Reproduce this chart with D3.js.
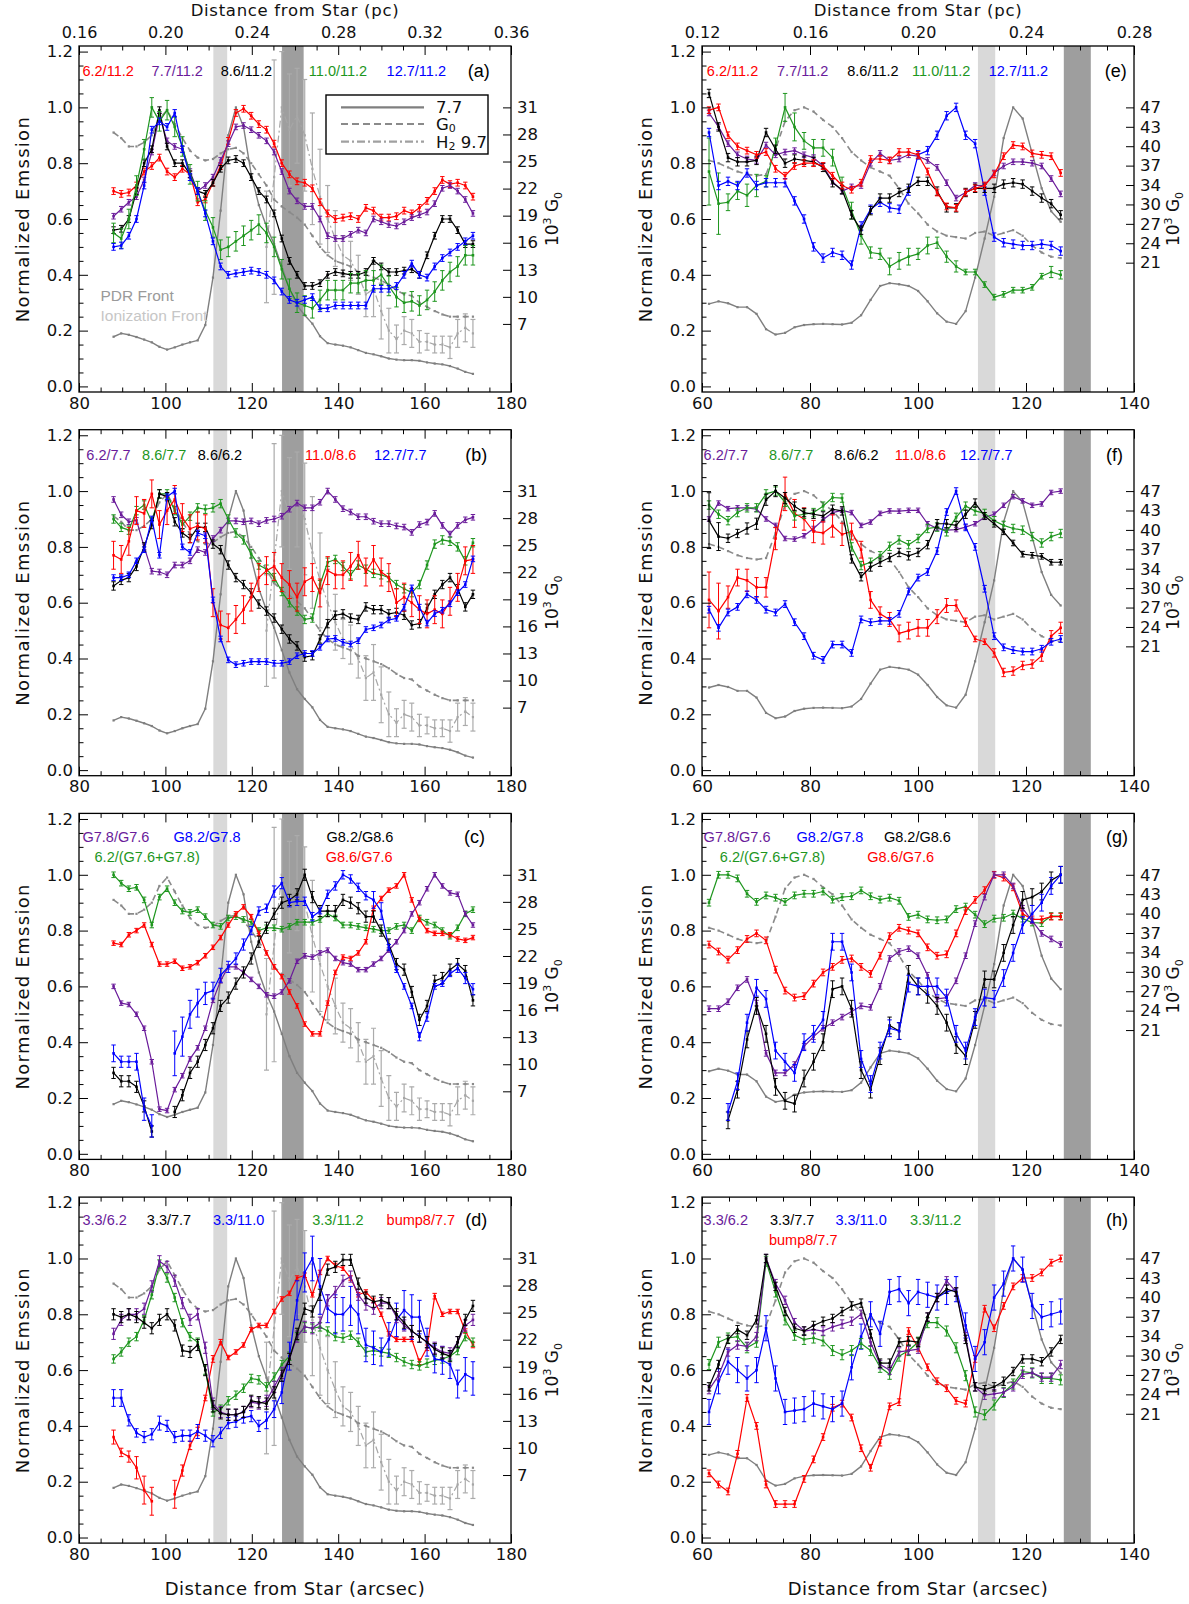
<!DOCTYPE html>
<html><head><meta charset="utf-8">
<script src="https://cdn.jsdelivr.net/npm/d3@7"></script>
<style>body{margin:0;background:#fff}svg{display:block}</style>
</head><body>
<svg id="c" width="1189" height="1604"></svg>
<script>
// ---------------- DATA ----------------
const xL = [88.00,89.77,91.54,93.31,95.08,96.85,98.62,100.39,102.16,103.93,105.70,107.47,109.24,111.01,112.78,114.55,116.32,118.09,119.86,121.63,123.40,125.17,126.94,128.71,130.48,132.25,134.02,135.79,137.56,139.33,141.10,142.87,144.64,146.41,148.18,149.95,151.72,153.49,155.26,157.03,158.80,160.57,162.34,164.11,165.88,167.65,169.42,171.19];
const xR = [61.30,63.06,64.82,66.58,68.34,70.10,71.86,73.62,75.38,77.14,78.90,80.66,82.42,84.18,85.94,87.70,89.46,91.22,92.98,94.74,96.50,98.26,100.02,101.78,103.54,105.30,107.06,108.82,110.58,112.34,114.10,115.86,117.62,119.38,121.14,122.90,124.66,126.42];

// gray reference profiles (left column, panels a-d)
const pah77L = [0.178,0.19,0.185,0.177,0.168,0.158,0.142,0.132,0.14,0.15,0.158,0.165,0.22,0.39,0.63,0.9,1.0,0.93,0.76,0.65,0.573,0.51,0.43,0.35,0.29,0.255,0.225,0.18,0.155,0.15,0.146,0.14,0.13,0.12,0.115,0.108,0.1,0.096,0.094,0.094,0.092,0.086,0.082,0.079,0.073,0.064,0.052,0.045];
const g0L = [0.91,0.89,0.86,0.86,0.875,0.9,0.96,0.99,0.94,0.89,0.845,0.82,0.81,0.815,0.835,0.85,0.855,0.835,0.8,0.76,0.72,0.67,0.645,0.625,0.605,0.58,0.54,0.5,0.47,0.45,0.44,0.43,0.41,0.4,0.39,0.38,0.365,0.345,0.33,0.325,0.3,0.285,0.27,0.258,0.25,0.25,0.25,0.25];
const h2L = [NaN,NaN,NaN,NaN,NaN,NaN,NaN,NaN,NaN,NaN,NaN,NaN,NaN,NaN,NaN,NaN,NaN,NaN,NaN,NaN,0.5,0.75,1.0,0.92,0.97,0.9,0.78,0.68,0.6,0.53,0.47,0.45,0.4,0.33,0.35,0.27,0.2,0.17,0.2,0.19,0.16,0.16,0.15,0.15,0.14,0.19,0.21,0.19];
const h2ErrL = [0,0,0,0,0,0,0,0,0,0,0,0,0,0,0,0,0,0,0,0,0.2,0.42,0.2,0.2,0.17,0.2,0.2,0.17,0.12,0.1,0.07,0.07,0.07,0.08,0.1,0.1,0.08,0.05,0.05,0.05,0.04,0.03,0.03,0.03,0.04,0.05,0.05,0.05];
// gray reference profiles (right column, panels e-h)
const pah77R = [0.296,0.305,0.298,0.284,0.284,0.26,0.205,0.186,0.192,0.212,0.22,0.223,0.224,0.223,0.222,0.228,0.255,0.31,0.36,0.37,0.366,0.36,0.342,0.305,0.262,0.232,0.224,0.27,0.39,0.53,0.68,0.89,1.0,0.96,0.835,0.71,0.628,0.59];
const g0R = [0.81,0.8,0.785,0.77,0.76,0.755,0.76,0.85,0.95,0.99,1.0,0.985,0.955,0.93,0.89,0.84,0.81,0.785,0.77,0.755,0.71,0.655,0.62,0.58,0.555,0.54,0.535,0.53,0.55,0.555,0.54,0.55,0.56,0.54,0.505,0.48,0.465,0.46];

// panel (a)
const a_62_112 = [0.70,0.69,0.695,0.72,0.77,0.79,0.82,0.77,0.75,0.78,0.76,0.66,0.67,0.73,0.79,0.88,0.98,0.995,0.97,0.94,0.92,0.87,0.80,0.76,0.735,0.73,0.71,0.66,0.62,0.60,0.605,0.61,0.60,0.64,0.63,0.605,0.605,0.61,0.63,0.62,0.64,0.665,0.70,0.74,0.725,0.73,0.72,0.68];
const a_77_112 = [0.61,0.635,0.66,0.68,0.74,0.84,0.97,0.88,0.86,0.85,0.77,0.70,0.72,0.75,0.81,0.87,0.93,0.935,0.92,0.90,0.88,0.84,0.77,0.70,0.665,0.645,0.645,0.60,0.54,0.53,0.53,0.545,0.56,0.55,0.60,0.59,0.58,0.575,0.59,0.605,0.615,0.625,0.655,0.71,0.72,0.70,0.67,0.62];
const a_86_112 = [0.56,0.565,0.60,0.70,0.80,0.85,0.99,0.86,0.80,0.80,0.76,0.70,0.69,0.73,0.78,0.81,0.815,0.80,0.75,0.70,0.67,0.62,0.53,0.45,0.40,0.36,0.36,0.37,0.40,0.41,0.405,0.40,0.40,0.41,0.45,0.43,0.41,0.41,0.415,0.42,0.40,0.47,0.54,0.60,0.60,0.56,0.51,0.51];
const a_110_112 = [0.55,0.53,0.60,0.72,0.85,1.0,0.95,0.99,0.93,0.86,0.76,0.70,0.63,0.57,0.49,0.50,0.52,0.54,0.56,0.58,0.55,0.50,0.42,0.35,0.30,0.29,0.28,0.31,0.345,0.345,0.345,0.37,0.37,0.38,0.38,0.40,0.36,0.32,0.30,0.305,0.29,0.31,0.34,0.38,0.41,0.43,0.47,0.47];
const a_127_112 = [0.50,0.505,0.54,0.60,0.72,0.92,0.95,0.93,0.98,0.85,0.75,0.70,0.62,0.52,0.43,0.40,0.405,0.41,0.415,0.41,0.40,0.38,0.34,0.31,0.30,0.31,0.32,0.28,0.28,0.29,0.29,0.29,0.29,0.29,0.35,0.35,0.35,0.36,0.40,0.44,0.40,0.39,0.43,0.46,0.48,0.50,0.52,0.54];
// panel (b)
const b_62_77 = [0.97,0.915,0.89,0.895,0.80,0.713,0.71,0.70,0.735,0.735,0.75,0.79,0.78,0.83,0.86,0.893,0.893,0.89,0.893,0.883,0.895,0.90,0.91,0.935,0.957,0.94,0.94,0.96,1.0,0.97,0.937,0.925,0.908,0.908,0.892,0.883,0.883,0.875,0.871,0.852,0.88,0.889,0.92,0.877,0.846,0.877,0.897,0.906];
const b_86_77 = [0.90,0.87,0.86,0.93,0.95,0.89,0.99,0.99,0.93,0.88,0.91,0.94,0.935,0.94,0.955,0.90,0.85,0.825,0.775,0.735,0.72,0.69,0.64,0.60,0.57,0.54,0.545,0.665,0.745,0.755,0.73,0.70,0.735,0.72,0.705,0.70,0.69,0.665,0.65,0.636,0.665,0.735,0.81,0.825,0.82,0.80,0.75,0.815];
const b_86_62 = [0.66,0.68,0.69,0.73,0.80,0.88,0.99,0.98,0.89,0.85,0.83,0.87,0.87,0.81,0.79,0.735,0.69,0.665,0.635,0.595,0.57,0.545,0.505,0.47,0.445,0.405,0.41,0.47,0.525,0.555,0.56,0.545,0.54,0.585,0.575,0.575,0.56,0.565,0.555,0.52,0.525,0.58,0.63,0.665,0.69,0.65,0.585,0.63];
const b_110_86 = [0.77,0.755,0.82,0.93,0.92,0.99,0.88,0.93,0.97,0.905,0.865,0.875,0.865,0.60,0.52,0.51,0.54,0.575,0.62,0.69,0.715,0.73,0.69,0.665,0.62,0.675,0.69,0.635,0.715,0.70,0.70,0.73,0.77,0.71,0.755,0.71,0.69,0.60,0.62,0.60,0.575,0.56,0.575,0.56,0.605,0.655,0.75,0.755];
const b_127_77 = [0.69,0.69,0.70,0.75,0.79,0.90,0.77,0.98,1.0,0.80,0.78,0.85,0.84,0.61,0.47,0.395,0.378,0.383,0.389,0.389,0.389,0.383,0.383,0.389,0.41,0.418,0.418,0.44,0.47,0.472,0.458,0.452,0.464,0.504,0.51,0.52,0.538,0.544,0.584,0.653,0.584,0.527,0.561,0.573,0.596,0.636,0.665,0.757];
// panel (c)
const c_G78_G76 = [0.60,0.54,0.535,0.50,0.45,0.33,0.16,0.155,0.23,0.28,0.34,0.38,0.45,0.55,0.62,0.67,0.67,0.65,0.625,0.60,0.57,0.565,0.58,0.62,0.69,0.71,0.705,0.72,0.73,0.70,0.685,0.68,0.66,0.66,0.68,0.70,0.73,0.76,0.80,0.86,0.90,0.95,1.0,0.96,0.935,0.93,0.86,0.82];
const c_G82_G78 = [0.36,0.33,0.33,0.33,0.16,0.10,NaN,NaN,0.36,0.42,0.50,0.54,0.575,0.585,0.64,0.67,0.70,0.75,0.80,0.87,0.88,0.94,0.97,0.90,0.905,0.905,0.85,0.87,0.93,0.96,1.0,0.985,0.955,0.925,0.91,0.87,0.74,0.66,0.60,0.53,0.42,0.49,0.60,0.61,0.645,0.665,0.63,0.59];
const c_G82_G78_err = [0.03,0.02,0.02,0.03,0.04,0.04,0.03,0.03,0.08,0.07,0.05,0.05,0.04,0.03,0.025,0.02,0.02,0.02,0.015,0.015,0.015,0.02,0.02,0.015,0.015,0.015,0.015,0.01,0.015,0.015,0.015,0.015,0.015,0.015,0.03,0.03,0.01,0.01,0.01,0.01,0.015,0.015,0.01,0.01,0.01,0.015,0.02,0.02];
const c_G82_G86 = [0.29,0.26,0.26,0.24,0.17,0.08,NaN,NaN,0.15,0.21,0.29,0.33,0.39,0.45,0.53,0.56,0.61,0.65,0.70,0.76,0.81,0.86,0.90,0.91,0.93,1.0,0.92,0.87,0.87,0.87,0.91,0.90,0.88,0.85,0.85,0.80,0.75,0.68,0.66,0.58,0.48,0.53,0.62,0.63,0.66,0.68,0.655,0.55];
const c_G86_G76 = [0.755,0.75,0.785,0.80,0.82,0.75,0.68,0.68,0.69,0.665,0.67,0.685,0.71,0.74,0.775,0.82,0.86,0.885,0.85,0.79,0.72,0.67,0.635,0.58,0.53,0.465,0.43,0.43,0.54,0.65,0.705,0.70,0.72,0.76,0.88,0.915,0.945,0.96,1.0,0.91,0.84,0.80,0.79,0.79,0.785,0.77,0.765,0.775];
const c_62_G76G78 = [1.0,0.97,0.95,0.955,0.91,0.82,0.92,0.95,0.90,0.87,0.865,0.875,0.85,0.82,0.815,0.845,0.85,0.84,0.83,0.80,0.81,0.81,0.805,0.815,0.83,0.83,0.83,0.84,0.86,0.845,0.82,0.82,0.815,0.81,0.805,0.80,0.80,0.815,0.82,0.80,0.845,0.83,0.82,0.80,0.78,0.81,0.86,0.875];
// panel (d)
const d_33_62 = [0.73,0.78,0.80,0.80,0.82,0.90,0.99,0.97,0.92,0.84,0.78,0.80,0.68,0.48,0.45,0.44,0.44,0.45,0.485,0.48,0.49,0.54,0.59,0.64,0.72,0.755,0.75,0.77,0.85,0.88,0.92,0.935,0.87,0.835,0.82,0.84,0.84,0.79,0.76,0.74,0.72,0.70,0.68,0.665,0.66,0.70,0.76,0.78];
const d_33_77 = [0.80,0.79,0.80,0.79,0.77,0.75,0.78,0.80,0.76,0.67,0.665,0.69,0.60,0.47,0.445,0.44,0.44,0.45,0.49,0.485,0.48,0.52,0.58,0.64,0.73,0.82,0.81,0.87,0.96,0.97,0.995,0.995,0.91,0.86,0.845,0.85,0.84,0.80,0.77,0.74,0.72,0.70,0.675,0.66,0.65,0.70,0.78,0.83];
const d_33_110 = [0.50,0.50,0.42,0.375,0.36,0.37,0.41,0.40,0.36,0.365,0.365,0.38,0.365,0.345,0.375,0.41,0.415,0.43,0.435,0.40,0.42,0.46,0.52,0.65,0.85,0.95,1.0,0.90,0.82,0.80,0.80,0.83,0.80,0.69,0.68,0.665,0.71,0.78,0.815,0.79,0.79,0.70,0.64,0.635,0.62,0.55,0.585,0.57];
const d_33_110_err = [0.03,0.03,0.02,0.015,0.02,0.02,0.025,0.02,0.02,0.02,0.02,0.025,0.02,0.02,0.02,0.02,0.02,0.02,0.02,0.02,0.03,0.03,0.04,0.05,0.07,0.07,0.08,0.1,0.05,0.07,0.06,0.07,0.07,0.06,0.06,0.05,0.06,0.06,0.07,0.08,0.06,0.05,0.05,0.05,0.05,0.05,0.06,0.06];
const d_33_112 = [0.64,0.665,0.70,0.72,0.78,0.87,0.98,0.93,0.86,0.77,0.72,0.70,0.60,0.45,0.46,0.49,0.51,0.535,0.57,0.565,0.54,0.575,0.62,0.65,0.72,0.755,0.75,0.755,0.74,0.72,0.715,0.725,0.70,0.665,0.67,0.665,0.66,0.645,0.63,0.62,0.615,0.625,0.635,0.64,0.65,0.67,0.72,0.70];
const d_bump8_77 = [0.36,0.305,0.29,0.25,0.17,0.13,NaN,NaN,0.155,0.24,0.33,0.38,0.50,0.64,0.70,0.645,0.665,0.69,0.745,0.76,0.76,0.81,0.855,0.875,0.93,0.94,0.87,0.95,1.0,0.975,0.965,0.93,0.87,0.88,0.85,0.80,0.73,0.71,0.71,0.71,0.63,0.68,0.865,0.80,0.81,0.81,0.74,0.69];
const d_bump8_77_err = [0.025,0.015,0.02,0.04,0.05,0.05,0.03,0.03,0.05,0.02,0.015,0.015,0.01,0.012,0.01,0.008,0.008,0.008,0.008,0.008,0.008,0.008,0.008,0.008,0.008,0.008,0.008,0.008,0.008,0.008,0.008,0.008,0.008,0.008,0.008,0.008,0.008,0.008,0.008,0.008,0.01,0.01,0.01,0.008,0.008,0.008,0.008,0.01];
// panel (e)
const e_62_112 = [0.99,1.0,0.90,0.86,0.845,0.83,0.84,0.78,0.755,0.79,0.80,0.80,0.79,0.755,0.72,0.705,0.73,0.815,0.815,0.81,0.84,0.84,0.83,0.77,0.695,0.645,0.64,0.695,0.71,0.72,0.76,0.825,0.865,0.86,0.835,0.83,0.825,0.765];
const e_77_112 = [0.98,0.93,0.87,0.83,0.815,0.81,0.865,0.83,0.84,0.845,0.83,0.82,0.79,0.735,0.70,0.715,0.72,0.80,0.835,0.81,0.815,0.83,0.825,0.81,0.785,0.73,0.675,0.695,0.72,0.72,0.765,0.79,0.805,0.805,0.80,0.79,0.745,0.69];
const e_86_112 = [1.05,0.93,0.82,0.805,0.805,0.81,0.91,0.85,0.80,0.815,0.81,0.805,0.785,0.73,0.705,0.615,0.56,0.63,0.675,0.675,0.695,0.71,0.735,0.735,0.70,0.64,0.64,0.695,0.71,0.71,0.71,0.725,0.73,0.725,0.70,0.675,0.655,0.615];
const e_110_112 = [0.77,0.655,0.66,0.70,0.685,0.72,0.735,0.86,1.0,0.93,0.88,0.855,0.855,0.82,0.72,0.63,0.54,0.48,0.475,0.43,0.45,0.465,0.475,0.505,0.515,0.465,0.43,0.41,0.41,0.365,0.32,0.33,0.345,0.345,0.355,0.395,0.41,0.40];
const e_110_112_err = [0.12,0.11,0.03,0.03,0.04,0.04,0.02,0.03,0.05,0.05,0.03,0.03,0.03,0.03,0.03,0.03,0.03,0.02,0.02,0.03,0.03,0.03,0.02,0.03,0.02,0.02,0.02,0.01,0.01,0.01,0.01,0.01,0.01,0.01,0.01,0.01,0.02,0.015];
const e_127_112 = [0.91,0.72,0.735,0.72,0.765,0.72,0.73,0.73,0.73,0.665,0.60,0.50,0.46,0.48,0.47,0.435,0.575,0.635,0.66,0.64,0.635,0.70,0.83,0.845,0.90,0.97,1.0,0.90,0.87,0.70,0.535,0.515,0.51,0.505,0.505,0.51,0.505,0.485];
// panel (f)
const f_62_77 = [0.90,0.957,0.937,0.94,0.94,0.935,0.90,0.877,0.83,0.828,0.84,0.866,0.897,0.923,0.931,0.923,0.877,0.889,0.92,0.929,0.928,0.931,0.931,0.883,0.866,0.86,0.862,0.871,0.883,0.906,0.917,0.949,0.98,0.965,0.949,0.954,0.995,1.0];
const f_86_77 = [0.95,0.917,0.894,0.923,0.94,0.94,0.99,1.0,0.96,0.911,0.917,0.923,0.946,0.977,0.975,0.80,0.733,0.745,0.768,0.802,0.825,0.808,0.83,0.866,0.871,0.854,0.906,0.946,0.929,0.92,0.894,0.877,0.866,0.86,0.837,0.814,0.837,0.848];
const f_86_62 = [0.894,0.837,0.831,0.848,0.866,0.883,0.969,1.0,0.975,0.946,0.923,0.917,0.911,0.935,0.929,0.757,0.693,0.728,0.745,0.762,0.78,0.768,0.78,0.808,0.883,0.883,0.877,0.917,0.957,0.911,0.883,0.854,0.814,0.774,0.77,0.766,0.745,0.745];
const f_86_62_err = [0.1,0.05,0.015,0.015,0.02,0.02,0.02,0.02,0.02,0.015,0.015,0.015,0.015,0.015,0.015,0.015,0.015,0.015,0.015,0.015,0.015,0.015,0.015,0.015,0.015,0.015,0.015,0.015,0.015,0.012,0.012,0.01,0.01,0.01,0.01,0.01,0.01,0.01];
const f_110_86 = [0.61,0.57,0.62,0.69,0.68,0.655,0.655,0.83,0.99,0.92,0.90,0.855,0.85,0.875,0.845,0.855,0.79,0.61,0.56,0.54,0.49,0.50,0.51,0.51,0.55,0.59,0.59,0.53,0.47,0.46,0.42,0.35,0.355,0.375,0.38,0.41,0.48,0.51];
const f_110_86_err = [0.1,0.1,0.04,0.03,0.04,0.035,0.035,0.04,0.06,0.05,0.04,0.04,0.04,0.04,0.04,0.03,0.03,0.03,0.025,0.025,0.03,0.03,0.03,0.03,0.025,0.025,0.02,0.015,0.01,0.01,0.015,0.015,0.015,0.015,0.015,0.02,0.02,0.02];
const f_127_77 = [0.575,0.51,0.565,0.585,0.63,0.61,0.575,0.565,0.595,0.53,0.48,0.41,0.395,0.45,0.45,0.42,0.54,0.53,0.535,0.535,0.56,0.64,0.69,0.71,0.785,0.925,1.0,0.87,0.80,0.65,0.48,0.44,0.43,0.425,0.425,0.435,0.46,0.47];
// panel (g)
const g_G78_G76 = [0.52,0.52,0.545,0.595,0.625,0.54,0.36,0.29,0.29,0.32,0.385,0.42,0.45,0.47,0.49,0.51,0.53,0.525,0.60,0.70,0.725,0.735,0.71,0.64,0.555,0.56,0.62,0.71,0.825,0.92,1.0,1.0,0.96,0.88,0.835,0.79,0.77,0.75];
const g_G82_G78 = [NaN,NaN,0.15,0.26,0.47,0.595,0.555,0.37,0.33,0.29,0.40,0.43,0.48,0.76,0.76,0.65,0.34,0.25,0.37,0.45,0.44,0.61,0.60,0.60,0.60,0.56,0.43,0.37,0.49,0.56,0.555,0.63,0.72,0.82,0.86,0.90,0.96,1.0];
const g_G82_G86 = [NaN,NaN,0.12,0.23,0.41,0.53,0.43,0.24,0.19,0.18,0.27,0.33,0.40,0.59,0.60,0.52,0.30,0.23,0.35,0.46,0.44,0.645,0.60,0.57,0.53,0.47,0.39,0.35,0.48,0.625,0.625,0.72,0.82,0.91,0.92,0.94,0.98,1.0];
const g_G86_G76 = [0.75,0.725,0.696,0.73,0.77,0.79,0.765,0.66,0.585,0.56,0.565,0.61,0.65,0.67,0.695,0.70,0.67,0.645,0.71,0.78,0.81,0.80,0.79,0.74,0.71,0.715,0.79,0.87,0.91,0.945,1.0,0.99,0.955,0.86,0.84,0.84,0.85,0.85];
const g_62_G76G78 = [0.90,1.0,1.0,0.987,0.932,0.903,0.926,0.918,0.903,0.926,0.932,0.932,0.94,0.911,0.92,0.923,0.944,0.923,0.911,0.918,0.907,0.849,0.857,0.84,0.837,0.84,0.877,0.886,0.857,0.823,0.843,0.846,0.861,0.843,0.829,0.827,0.852,0.852];
// panel (h)
const h_33_62 = [0.53,0.58,0.665,0.69,0.685,0.72,1.0,0.91,0.85,0.77,0.74,0.745,0.74,0.755,0.765,0.775,0.80,0.70,0.62,0.60,0.665,0.67,0.675,0.79,0.86,0.92,0.88,0.72,0.54,0.51,0.515,0.52,0.54,0.585,0.59,0.575,0.575,0.62];
const h_33_77 = [0.54,0.62,0.71,0.745,0.725,0.78,1.0,0.90,0.81,0.75,0.74,0.76,0.775,0.785,0.81,0.83,0.84,0.73,0.625,0.625,0.70,0.705,0.70,0.79,0.86,0.89,0.88,0.71,0.54,0.53,0.54,0.56,0.595,0.64,0.64,0.63,0.665,0.71];
const h_33_110 = [0.45,0.56,0.63,0.60,0.57,0.60,0.75,0.57,0.45,0.455,0.46,0.48,0.47,0.46,0.48,0.61,0.72,0.80,0.73,0.88,0.89,0.84,0.88,0.87,0.86,0.88,0.89,0.76,0.64,0.70,0.86,0.91,1.0,0.96,0.83,0.79,0.80,0.81];
const h_33_112 = [0.62,0.70,0.715,0.72,0.68,0.70,0.99,0.88,0.78,0.725,0.71,0.715,0.705,0.67,0.655,0.67,0.695,0.67,0.61,0.585,0.65,0.67,0.70,0.77,0.77,0.74,0.68,0.58,0.45,0.44,0.475,0.52,0.55,0.595,0.59,0.57,0.57,0.565];
const h_bump8_77 = [0.23,0.19,0.165,0.30,0.50,0.40,0.19,0.12,0.12,0.12,0.21,0.28,0.36,0.465,0.48,0.43,0.32,0.25,0.34,0.47,0.485,0.74,0.68,0.61,0.56,0.535,0.49,0.48,0.64,0.82,0.75,0.83,0.90,0.93,0.93,0.95,0.985,1.0];

// axis tick values / labels
const xTicksL = [80,100,120,140,160,180], xTicksR = [60,80,100,120,140];
const yTicks = [0,0.2,0.4,0.6,0.8,1.0,1.2];
const g0TicksL = [31,28,25,22,19,16,13,10,7];
const g0TicksR = [47,43.75,40.5,37.25,34,30.75,27.5,24.25,21];
const ionFront = [111.1,114.3], pdrFront = [127,132];

// ---------------- LAYOUT / STYLE ----------------
const AX = "'DejaVu Sans', sans-serif";
const LB = "'Liberation Sans', Arial, sans-serif";
const COL = {red:'#ff0000', purple:'#6a1b9a', black:'#000000', green:'#1e961e', blue:'#0000ff'};
const cols = [
  {x0:79, x1:511, dom:[80,180], xs:xL, ticks:xTicksL, g0:g0TicksL, g0Dom:[7,31], g0Rng:[0.224,1.0], yT:552},
  {x0:702, x1:1134, dom:[60,140], xs:xR, ticks:xTicksR, g0:g0TicksR, g0Dom:[21,47], g0Rng:[0.4435,1.0], yT:1173}
];
const tops = [46, 429.7, 813.4, 1197.1], PH = 346;

const panels = [
 {id:'a', col:0, row:0, series:[
   {y:a_62_112,c:'red',e:0.012},{y:a_77_112,c:'purple',e:0.01},{y:a_86_112,c:'black',e:0.012},
   {y:a_110_112,c:'green',e:0.035},{y:a_127_112,c:'blue',e:0.012}],
  labels:[['6.2/11.2','red',80.8,1.13],['7.7/11.2','purple',96.8,1.13],['8.6/11.2','black',112.8,1.13],['11.0/11.2','green',133.2,1.13],['12.7/11.2','blue',151.2,1.13]],
  tag:['(a)',170,1.13]},
 {id:'b', col:0, row:1, series:[
   {y:b_62_77,c:'purple',e:0.01},{y:b_86_77,c:'green',e:0.015},{y:b_86_62,c:'black',e:0.015},
   {y:b_110_86,c:'red',e:0.05},{y:b_127_77,c:'blue',e:0.01}],
  labels:[['6.2/7.7','purple',81.7,1.13],['8.6/7.7','green',94.6,1.13],['8.6/6.2','black',107.5,1.13],['11.0/8.6','red',132.3,1.13],['12.7/7.7','blue',148.3,1.13]],
  tag:['(b)',169.4,1.13]},
 {id:'c', col:0, row:2, series:[
   {y:c_62_G76G78,c:'green',e:0.01},{y:c_G86_G76,c:'red',e:0.008},{y:c_G78_G76,c:'purple',e:0.008},
   {y:c_G82_G86,c:'black',e:0.02},{y:c_G82_G78,c:'blue',e:c_G82_G78_err}],
  labels:[['G7.8/G7.6','purple',80.8,1.137],['G8.2/G7.8','blue',101.9,1.137],['G8.2/G8.6','black',137.3,1.137],['6.2/(G7.6+G7.8)','green',83.6,1.065],['G8.6/G7.6','red',137.1,1.065]],
  tag:['(c)',169.1,1.137]},
 {id:'d', col:0, row:3, series:[
   {y:d_bump8_77,c:'red',e:d_bump8_77_err},{y:d_33_112,c:'green',e:0.015},{y:d_33_110,c:'blue',e:d_33_110_err},
   {y:d_33_62,c:'purple',e:0.02},{y:d_33_77,c:'black',e:0.02}],
  labels:[['3.3/6.2','purple',80.8,1.138],['3.3/7.7','black',95.7,1.138],['3.3/11.0','blue',111,1.138],['3.3/11.2','green',134,1.138],['bump8/7.7','red',151.2,1.138]],
  tag:['(d)',169.4,1.138]},
 {id:'e', col:1, row:0, series:[
   {y:e_110_112,c:'green',e:e_110_112_err},{y:e_127_112,c:'blue',e:0.015},{y:e_77_112,c:'purple',e:0.01},
   {y:e_86_112,c:'black',e:0.015},{y:e_62_112,c:'red',e:0.012}],
  labels:[['6.2/11.2','red',60.9,1.13],['7.7/11.2','purple',73.9,1.13],['8.6/11.2','black',86.9,1.13],['11.0/11.2','green',98.9,1.13],['12.7/11.2','blue',113.1,1.13]],
  tag:['(e)',134.6,1.13]},
 {id:'f', col:1, row:1, series:[
   {y:f_62_77,c:'purple',e:0.008},{y:f_110_86,c:'red',e:f_110_86_err},{y:f_127_77,c:'blue',e:0.012},
   {y:f_86_77,c:'green',e:0.015},{y:f_86_62,c:'black',e:f_86_62_err}],
  labels:[['6.2/7.7','purple',60.3,1.13],['8.6/7.7','green',72.4,1.13],['8.6/6.2','black',84.5,1.13],['11.0/8.6','red',95.7,1.13],['12.7/7.7','blue',107.8,1.13]],
  tag:['(f)',134.8,1.13]},
 {id:'g', col:1, row:2, series:[
   {y:g_62_G76G78,c:'green',e:0.012},{y:g_G86_G76,c:'red',e:0.012},{y:g_G78_G76,c:'purple',e:0.01},
   {y:g_G82_G86,c:'black',e:0.03},{y:g_G82_G78,c:'blue',e:0.03}],
  labels:[['G7.8/G7.6','purple',60.3,1.137],['G8.2/G7.8','blue',77.5,1.137],['G8.2/G8.6','black',93.7,1.137],['6.2/(G7.6+G7.8)','green',63.3,1.065],['G8.6/G7.6','red',90.6,1.065]],
  tag:['(g)',134.8,1.137]},
 {id:'h', col:1, row:3, series:[
   {y:h_bump8_77,c:'red',e:0.012},{y:h_33_110,c:'blue',e:0.045},{y:h_33_112,c:'green',e:0.018},
   {y:h_33_62,c:'purple',e:0.015},{y:h_33_77,c:'black',e:0.015}],
  labels:[['3.3/6.2','purple',60.3,1.138],['3.3/7.7','black',72.6,1.138],['3.3/11.0','blue',84.7,1.138],['3.3/11.2','green',98.5,1.138],['bump8/7.7','red',72.4,1.066]],
  tag:['(h)',134.8,1.138]}
];

// ---------------- DRAW ----------------
const svg = d3.select('#c');
const defs = svg.append('defs');

function drawSeries(g, x, y, xs, ys, err, color, o={}) {
  const data = xs.map((xv,i)=>({x:xv, y:ys[i], e: err==null?0:(Array.isArray(err)?err[i]:err)}));
  const line = d3.line().defined(d=>Number.isFinite(d.y)).x(d=>x(d.x)).y(d=>y(d.y));
  g.append('path').datum(data).attr('d',line).attr('fill','none')
    .attr('stroke',color).attr('stroke-width',o.w||1.2)
    .attr('stroke-dasharray',o.dash||null).attr('stroke-linejoin','round');
  const valid = data.filter(d=>Number.isFinite(d.y));
  if (err!=null) {
    const eg = g.append('g').attr('stroke',o.ecolor||color).attr('stroke-width',o.ew||1);
    valid.filter(d=>d.e>0).forEach(d=>{
      const X=x(d.x), y1=y(d.y+d.e), y2=y(d.y-d.e), cw=o.cw||2.2;
      eg.append('line').attr('x1',X).attr('x2',X).attr('y1',y1).attr('y2',y2);
      eg.append('line').attr('x1',X-cw).attr('x2',X+cw).attr('y1',y1).attr('y2',y1);
      eg.append('line').attr('x1',X-cw).attr('x2',X+cw).attr('y1',y2).attr('y2',y2);
    });
  }
  const ms = o.ms||2.6;
  g.append('g').selectAll('rect').data(valid).join('rect')
    .attr('x',d=>x(d.x)-ms/2).attr('y',d=>y(d.y)-ms/2).attr('width',ms).attr('height',ms)
    .attr('fill',o.mcolor||color);
}

function styleAxis(sel, size) {
  sel.select('.domain').remove();
  sel.selectAll('line').attr('stroke','#000').attr('stroke-width',1);
  sel.selectAll('text').attr('font-family',AX).attr('font-size',size||16.5).attr('fill','#111');
}

panels.forEach(p=>{
  const C = cols[p.col];
  const top = tops[p.row], bot = top+PH;
  const x = d3.scaleLinear().domain(C.dom).range([C.x0,C.x1]);
  const y = d3.scaleLinear().domain([-0.02,1.22]).range([bot,top]);
  const g0 = d3.scaleLinear().domain(C.g0Dom).range([y(C.g0Rng[0]), y(C.g0Rng[1])]);
  const g = svg.append('g');
  const cid = 'clip'+p.id;
  defs.append('clipPath').attr('id',cid).append('rect')
    .attr('x',C.x0).attr('y',top).attr('width',C.x1-C.x0).attr('height',PH);
  const pg = g.append('g').attr('clip-path',`url(#${cid})`);
  // shaded fronts
  pg.append('rect').attr('x',x(ionFront[0])).attr('width',x(ionFront[1])-x(ionFront[0]))
    .attr('y',top).attr('height',PH).attr('fill','#d9d9d9');
  pg.append('rect').attr('x',x(pdrFront[0])).attr('width',x(pdrFront[1])-x(pdrFront[0]))
    .attr('y',top).attr('height',PH).attr('fill','#9e9e9e');
  // gray reference profiles
  const xs = C.xs;
  if (p.col===0) {
    drawSeries(pg,x,y,xs,h2L,h2ErrL,'#a6a6a6',{dash:'7,3,2,3',w:1.2,ecolor:'#ababab',ew:1.2,cw:2.5,ms:2.2});
    drawSeries(pg,x,y,xs,g0L,null,'#8a8a8a',{dash:'6,4',w:1.6,ms:2.2});
    drawSeries(pg,x,y,xs,pah77L,null,'#7f7f7f',{w:1.4,ms:2.2});
  } else {
    drawSeries(pg,x,y,xs,g0R,null,'#8a8a8a',{dash:'6,4',w:1.6,ms:2.2});
    drawSeries(pg,x,y,xs,pah77R,null,'#7f7f7f',{w:1.4,ms:2.2});
  }
  // colored ratio series
  p.series.forEach(s=>drawSeries(pg,x,y,xs,s.y,s.e,COL[s.c]));

  // axes
  const minorX = d3.range(C.dom[0],C.dom[1]+0.1,5).filter(v=>v%20!==0);
  const minorY = d3.range(0,1.21,0.05).filter(v=>Math.abs(v*5-Math.round(v*5))>1e-6);
  const ab = g.append('g').attr('transform',`translate(0,${bot})`)
    .call(d3.axisBottom(x).tickValues(C.ticks).tickSize(-9).tickPadding(5).tickFormat(d3.format('d')));
  styleAxis(ab);
  styleAxis(g.append('g').attr('transform',`translate(0,${bot})`)
    .call(d3.axisBottom(x).tickValues(minorX).tickSize(-4.5).tickFormat('')));
  const at = g.append('g').attr('transform',`translate(0,${top})`)
    .call(d3.axisTop(x).tickValues(C.ticks).tickSize(-9).tickPadding(8)
      .tickFormat(p.row===0 ? (d=>(d*0.002).toFixed(2)) : ''));
  styleAxis(at, 16);
  styleAxis(g.append('g').attr('transform',`translate(0,${top})`)
    .call(d3.axisTop(x).tickValues(minorX).tickSize(-4.5).tickFormat('')));
  const al = g.append('g').attr('transform',`translate(${C.x0},0)`)
    .call(d3.axisLeft(y).tickValues(yTicks).tickSize(-9).tickPadding(6).tickFormat(d3.format('.1f')));
  styleAxis(al);
  styleAxis(g.append('g').attr('transform',`translate(${C.x0},0)`)
    .call(d3.axisLeft(y).tickValues(minorY).tickSize(-4.5).tickFormat('')));
  const ar = g.append('g').attr('transform',`translate(${C.x1},0)`)
    .call(d3.axisRight(g0).tickValues(C.g0).tickSize(-8).tickPadding(6).tickFormat(d=>Math.floor(d)));
  styleAxis(ar);
  // frame
  g.append('rect').attr('x',C.x0).attr('y',top).attr('width',C.x1-C.x0).attr('height',PH)
    .attr('fill','none').attr('stroke','#000').attr('stroke-width',1.3);

  // axis titles
  const cy = (top+bot)/2;
  g.append('text').attr('transform',`translate(${C.x0-57},${cy}) rotate(-90)`)
    .attr('text-anchor','middle').attr('dominant-baseline','central')
    .attr('font-family',AX).attr('font-size',18).attr('letter-spacing',1.3).attr('fill','#111').text('Normalized Emssion');
  const rt = g.append('text').attr('transform',`translate(${C.yT},${cy}) rotate(-90)`)
    .attr('text-anchor','middle').attr('y',6)
    .attr('font-family',AX).attr('font-size',17).attr('fill','#111');
  rt.append('tspan').text('10');
  rt.append('tspan').attr('font-size',11).attr('dy',-7).text('3');
  rt.append('tspan').attr('dy',7).text(' G');
  rt.append('tspan').attr('font-size',11).attr('dy',4).text('0');
  const xm = (C.x0+C.x1)/2;
  if (p.row===0) {
    g.append('text').attr('x',xm).attr('y',16).attr('text-anchor','middle')
      .attr('font-family',AX).attr('font-size',16.5).attr('letter-spacing',0.7).attr('fill','#111').text('Distance from Star (pc)');
  }
  if (p.row===3) {
    g.append('text').attr('x',xm).attr('y',1588).attr('text-anchor','middle').attr('dominant-baseline','central')
      .attr('font-family',AX).attr('font-size',18).attr('letter-spacing',0.5).attr('fill','#111').text('Distance from Star (arcsec)');
  }

  // series labels
  p.labels.forEach(l=>{
    g.append('text').attr('x',x(l[2])).attr('y',y(l[3])).attr('dominant-baseline','central')
      .attr('font-family',LB).attr('font-size',14.5).attr('fill',COL[l[1]]).text(l[0]);
  });
  g.append('text').attr('x',x(p.tag[1])).attr('y',y(p.tag[2])).attr('dominant-baseline','central')
    .attr('font-family',LB).attr('font-size',18).attr('fill','#000').text(p.tag[0]);

  // extras for panel (a)
  if (p.id==='a') {
    g.append('text').attr('x',100.5).attr('y',295).attr('dominant-baseline','central')
      .attr('font-family',LB).attr('font-size',15.5).attr('fill','#9a9a9a').text('PDR Front');
    g.append('text').attr('x',100.5).attr('y',315).attr('dominant-baseline','central')
      .attr('font-family',LB).attr('font-size',15.5).attr('fill','#c6c6c6').text('Ionization Front');
    const lg = g.append('g');
    lg.append('rect').attr('x',326).attr('y',95).attr('width',162).attr('height',59)
      .attr('fill','#fff').attr('stroke','#000').attr('stroke-width',1.4);
    const rows = [
      {yy:107.3, dash:null, c:'#7f7f7f', t:[['7.7']]},
      {yy:124, dash:'7,4', c:'#8a8a8a', t:[['G'],['0','sub']]},
      {yy:141.7, dash:'8,3,2,3', c:'#a0a0a0', t:[['H'],['2','sub'],[' 9.7']]}
    ];
    rows.forEach(r=>{
      lg.append('line').attr('x1',341).attr('x2',424).attr('y1',r.yy).attr('y2',r.yy)
        .attr('stroke',r.c).attr('stroke-width',2.2).attr('stroke-dasharray',r.dash);
      const t = lg.append('text').attr('x',436).attr('y',r.yy).attr('dominant-baseline','central')
        .attr('font-family',AX).attr('font-size',16.5).attr('fill','#111');
      r.t.forEach(s=>{
        const ts = t.append('tspan').text(s[0]);
        if (s[1]==='sub') ts.attr('font-size',11).attr('dy',4);
        else if (t.selectAll('tspan').size()>1) ts.attr('dy',-4);
      });
    });
  }
});
</script>
</body></html>
